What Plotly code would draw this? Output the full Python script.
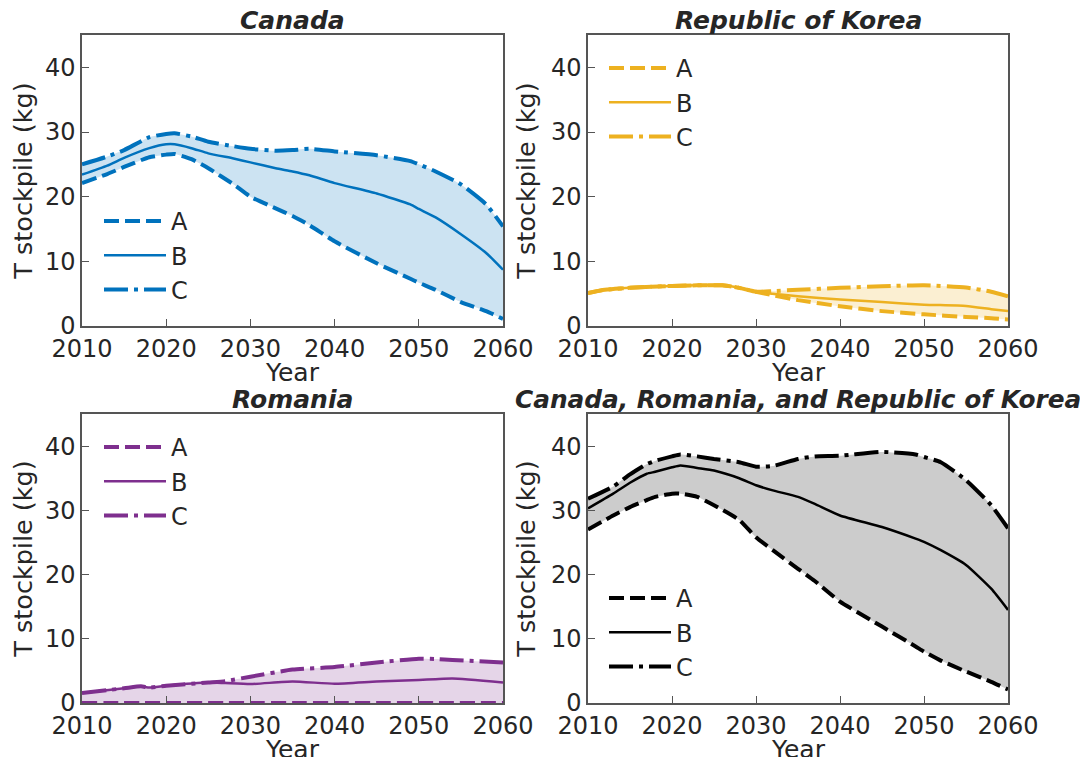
import plotly.graph_objects as go

# ---------------- data ----------------
can_years = [2010, 2013, 2015, 2018, 2020, 2021, 2023, 2025, 2028, 2030, 2033, 2035, 2037, 2040, 2045, 2049, 2050, 2052, 2055, 2058, 2060]
can_A = [22.1, 23.5, 24.6, 26.1, 26.5, 26.6, 25.8, 24.4, 21.9, 20.0, 18.2, 17.0, 15.6, 13.1, 9.7, 7.3, 6.7, 5.6, 3.7, 2.3, 1.1]
can_B = [23.4, 24.8, 26.0, 27.5, 28.1, 28.1, 27.5, 26.7, 25.9, 25.3, 24.4, 23.9, 23.3, 22.1, 20.5, 18.8, 18.1, 16.8, 14.2, 11.3, 8.7]
can_C = [25.0, 26.2, 27.2, 29.2, 29.7, 29.8, 29.3, 28.5, 27.8, 27.4, 27.1, 27.2, 27.4, 27.0, 26.4, 25.5, 25.0, 23.9, 21.9, 18.8, 15.4]

kor_years = [2010, 2012, 2015, 2020, 2026, 2028, 2030, 2032, 2035, 2040, 2045, 2050, 2055, 2058, 2060]
kor_A = [5.1, 5.6, 5.9, 6.2, 6.3, 5.9, 5.3, 4.75, 4.0, 3.05, 2.3, 1.8, 1.4, 1.2, 1.0]
kor_B = [5.1, 5.6, 5.9, 6.2, 6.3, 5.9, 5.3, 5.0, 4.6, 4.1, 3.7, 3.3, 3.1, 2.6, 2.3]
kor_C = [5.1, 5.6, 5.9, 6.2, 6.3, 5.9, 5.3, 5.4, 5.6, 5.9, 6.15, 6.3, 5.95, 5.3, 4.6]

rom_years = [2010, 2015, 2017, 2018, 2020, 2025, 2027, 2030, 2035, 2040, 2045, 2050, 2052, 2054, 2060]
rom_A = [0.0, 0.0, 0.0, 0.0, 0.0, 0.0, 0.0, 0.0, 0.0, 0.0, 0.0, 0.0, 0.0, 0.0, 0.0]
rom_B = [1.55, 2.3, 2.6, 2.4, 2.7, 3.2, 3.1, 2.95, 3.35, 3.0, 3.35, 3.6, 3.7, 3.8, 3.2]
rom_C = [1.55, 2.3, 2.6, 2.4, 2.7, 3.2, 3.4, 4.1, 5.2, 5.6, 6.3, 6.9, 6.85, 6.7, 6.3]

all_years = [2010, 2013, 2015, 2017, 2018, 2020, 2021, 2023, 2025, 2028, 2030, 2032, 2035, 2037, 2040, 2045, 2049, 2050, 2052, 2055, 2058, 2060]
all_A = [27.0, 29.2, 30.5, 31.6, 32.1, 32.6, 32.6, 32.1, 30.8, 28.5, 25.8, 23.8, 20.9, 19.0, 15.8, 11.9, 8.8, 8.0, 6.6, 4.9, 3.3, 2.1]
all_B = [30.3, 32.6, 34.3, 35.7, 36.0, 36.7, 37.0, 36.6, 36.2, 35.0, 33.9, 33.1, 32.1, 31.0, 29.2, 27.4, 25.6, 25.1, 23.8, 21.5, 17.8, 14.5]
all_C = [31.8, 33.7, 35.6, 37.2, 37.7, 38.4, 38.7, 38.4, 38.0, 37.5, 36.8, 36.9, 38.0, 38.4, 38.5, 39.1, 38.7, 38.3, 37.5, 34.7, 30.8, 27.2]

titles = ["Canada", "Republic of Korea", "Romania", "Canada, Romania, and Republic of Korea"]
scenario_names = ["A", "B", "C"]
x_ticks = [2010, 2020, 2030, 2040, 2050, 2060]
y_ticks = [0, 10, 20, 30, 40]
x_title = "Year"
y_title = "T stockpile (kg)"

# ---------------- style ----------------
colors = ["#0072BD", "#EDB120", "#7E2F8E", "#000000"]
fills = ["rgba(0,114,189,0.2)", "rgba(237,177,32,0.2)", "rgba(126,47,142,0.2)", "rgba(0,0,0,0.2)"]
text_color = "#262626"
frame_color = "#555555"
FONT = "DejaVu Sans"

OFF = 8                      # default page margin of the html body
WIN_W, WIN_H = 1088, 765
W, H = WIN_W - 2 * OFF, WIN_H - 2 * OFF

panel_px = [  # x0, x1, ytop, ybottom in window pixels
    (82, 503, 35, 326),
    (588, 1008, 35, 326),
    (82, 503, 414, 703),
    (588, 1008, 414, 703),
]
legend_pos = [  # legend top-left in window pixels
    (99, 199),
    (604, 46),
    (99, 425),
    (604, 576),
]
title_sizes = [25, 25, 25, 24.8]

def px_x(v):
    return (v - OFF) / W

def px_y(v):
    return 1 - (v - OFF) / H

datasets = [
    (can_years, can_A, can_B, can_C),
    (kor_years, kor_A, kor_B, kor_C),
    (rom_years, rom_A, rom_B, rom_C),
    (all_years, all_A, all_B, all_C),
]

fig = go.Figure()
layout = dict(
    width=W, height=H,
    margin=dict(l=0, r=0, t=0, b=0, autoexpand=False),
    paper_bgcolor="white", plot_bgcolor="white",
    font=dict(family=FONT, color=text_color, size=24),
    annotations=[],
)

dash_styles = ["15px,6px", "solid", "24px,6px,4px,6px"]
widths = [4, 2.5, 4]
SM = 0.5

for i, (yrs, A, B, C) in enumerate(datasets):
    n = i + 1
    xa = "x" if n == 1 else f"x{n}"
    ya = "y" if n == 1 else f"y{n}"
    leg = "legend" if n == 1 else f"legend{n}"
    col = colors[i]
    # band fill between A and C
    fig.add_trace(go.Scatter(x=yrs, y=A, mode="lines", line=dict(width=0, color=col, shape="spline", smoothing=SM),
                             showlegend=False, hoverinfo="skip", xaxis=xa, yaxis=ya))
    fig.add_trace(go.Scatter(x=yrs, y=C, mode="lines", line=dict(width=0, color=col, shape="spline", smoothing=SM),
                             fill="tonexty", fillcolor=fills[i],
                             showlegend=False, hoverinfo="skip", xaxis=xa, yaxis=ya))
    for k, vals in enumerate([A, B, C]):
        fig.add_trace(go.Scatter(x=yrs, y=vals, mode="lines", name=scenario_names[k],
                                 line=dict(color=col, width=widths[k], dash=dash_styles[k], shape="spline", smoothing=SM),
                                 legend=leg, legendgroup=f"{n}{k}", xaxis=xa, yaxis=ya))

    x0, x1, yt, yb = panel_px[i]
    xd = [px_x(x0), px_x(x1)]
    yd = [px_y(yb), px_y(yt)]
    axis_common = dict(
        showline=True, linecolor=frame_color, linewidth=1.5, mirror=True,
        ticks="inside", ticklen=7, tickwidth=1, tickcolor=frame_color,
        showgrid=False, zeroline=False, automargin=False,
        tickfont=dict(family=FONT, size=24, color=text_color),
    )
    layout[f"xaxis{'' if n == 1 else n}"] = dict(
        axis_common, domain=xd, range=[2010, 2060], tickvals=x_ticks, anchor=ya,
    )
    layout[f"yaxis{'' if n == 1 else n}"] = dict(
        axis_common, domain=yd, range=[0, 45], tickvals=y_ticks, anchor=xa,
        title=dict(text=y_title, font=dict(family=FONT, size=25.5, color=text_color), standoff=8),
    )
    lx, ly = legend_pos[i]
    layout[leg] = dict(
        x=px_x(lx), y=px_y(ly), xanchor="left", yanchor="top",
        bgcolor="rgba(0,0,0,0)", borderwidth=0,
        font=dict(family=FONT, size=24, color=text_color),
        tracegroupgap=0, itemwidth=62,
    )
    layout["annotations"].append(dict(
        text=f"<b><i>{titles[i]}</i></b>", x=px_x((x0 + x1) / 2), y=px_y(yt - 14),
        xref="paper", yref="paper", xanchor="center", yanchor="middle", showarrow=False,
        font=dict(family=FONT, size=title_sizes[i], color=text_color),
    ))
    layout["annotations"].append(dict(
        text=x_title, x=px_x((x0 + x1) / 2), y=px_y(yb + 46),
        xref="paper", yref="paper", xanchor="center", yanchor="middle", showarrow=False,
        font=dict(family=FONT, size=25, color=text_color),
    ))

fig.update_layout(**layout)
fig.write_html("out.html")
